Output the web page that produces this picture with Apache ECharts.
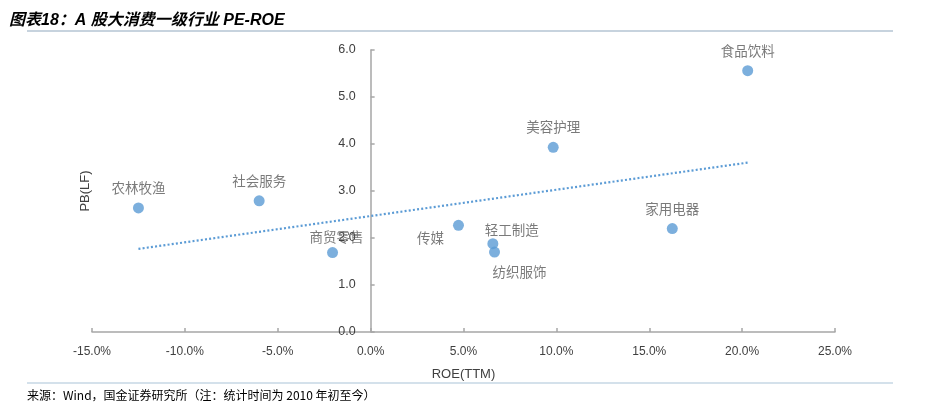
<!DOCTYPE html>
<html><head><meta charset="utf-8">
<script src="https://cdn.jsdelivr.net/npm/echarts@6/dist/echarts.min.js"></script>
<style>html,body{margin:0;padding:0;background:#fff}#c{width:928px;height:410px}</style>
</head><body><div id="c"></div>
<script>
// ---- data ----
const industries = ['农林牧渔','社会服务','商贸零售','传媒','轻工制造','纺织服饰','美容护理','家用电器','食品饮料'];
const roeTTM = [-12.5, -6.0, -2.05, 4.73, 6.58, 6.67, 9.83, 16.24, 20.3];
const pbLF   = [2.64, 2.79, 1.69, 2.27, 1.88, 1.70, 3.93, 2.20, 5.56];
const xTicks = [-15, -10, -5, 0, 5, 10, 15, 20, 25];
const yTicks = [0, 1, 2, 3, 4, 5, 6];

// label placement (style only)
const labelOffsets = {
  '农林牧渔': [0, -20], '社会服务': [0, -20], '商贸零售': [4, -16], '传媒': [-28, 13],
  '轻工制造': [19, -14], '纺织服饰': [25, 20], '美容护理': [0, -20], '家用电器': [0, -20], '食品饮料': [0, -20]
};

// linear trendline (least squares)
const n = roeTTM.length;
const mx = roeTTM.reduce((a,b)=>a+b,0)/n, my = pbLF.reduce((a,b)=>a+b,0)/n;
let sxy=0, sxx=0;
for (let i=0;i<n;i++){ sxy += (roeTTM[i]-mx)*(pbLF[i]-my); sxx += (roeTTM[i]-mx)**2; }
const slope = sxy/sxx, icpt = my - slope*mx;
const xMin = Math.min(...roeTTM), xMax = Math.max(...roeTTM);
const trend = [[xMin, icpt+slope*xMin],[xMax, icpt+slope*xMax]];

const pts = industries.map((nm,i)=>({
  name: nm, value: [roeTTM[i], pbLF[i]],
  label: { offset: labelOffsets[nm] }
}));

const GL = 92, GR = 93, W = 928;
const gridW = W - GL - GR;
const xLo = xTicks[0], xHi = xTicks[xTicks.length-1];
// shift y axis so it sits at ROE = 0
const yOffset = -gridW * (0 - xLo) / (xHi - xLo);

const chart = echarts.init(document.getElementById('c'));
const axisGray = '#A6A6A6';
chart.setOption({
  animation: false,
  title: {
    text: '图表18：A 股大消费一级行业 PE-ROE', left: 4, top: 8,
    textStyle: { fontSize: 16, fontWeight: 'bold', fontStyle: 'italic', color: '#000',
      fontFamily: '"Liberation Sans", "Noto Sans CJK SC", sans-serif' }
  },
  grid: { left: GL, right: GR, top: 50, bottom: 78, containLabel: false, outerBoundsMode: 'none' },
  xAxis: {
    type: 'value', min: xLo, max: xHi, interval: 5,
    name: 'ROE(TTM)', nameLocation: 'middle', nameGap: 36,
    nameTextStyle: { fontSize: 13, color: '#404040', fontFamily: '"Liberation Sans Narrow", "Liberation Sans", sans-serif' },
    axisLine: { onZero: false, lineStyle: { color: axisGray, width: 1.5 } },
    axisTick: { show: true, inside: true, length: 4, lineStyle: { color: axisGray, width: 1.5 } },
    axisLabel: { margin: 14, fontSize: 12, color: '#404040',
      fontFamily: '"Liberation Sans Narrow", "Liberation Sans", sans-serif',
      formatter: v => v.toFixed(1) + '%' },
    splitLine: { show: false }
  },
  yAxis: {
    type: 'value', min: yTicks[0], max: yTicks[yTicks.length-1], interval: 1,
    offset: yOffset,
    name: 'PB(LF)', nameLocation: 'middle', nameGap: 279, nameRotate: 90,
    nameTextStyle: { fontSize: 13, color: '#404040', fontFamily: '"Liberation Sans", sans-serif' },
    axisLine: { show: true, onZero: false, lineStyle: { color: axisGray, width: 1.5 } },
    axisTick: { show: true, inside: true, length: 4, lineStyle: { color: axisGray, width: 1.5 } },
    axisLabel: { margin: 15, fontSize: 12.5, color: '#404040', fontFamily: '"Liberation Sans", sans-serif',
      formatter: v => v.toFixed(1) },
    splitLine: { show: false }
  },
  series: [
    {
      type: 'line', data: trend, symbol: 'none', silent: true, z: 1,
      lineStyle: { color: '#5B9BD5', width: 2.2, type: [2, 2.2] }
    },
    {
      type: 'scatter', data: pts, symbolSize: 11, z: 3,
      itemStyle: { color: '#5B9BD5' },
      label: { show: true, position: 'inside', formatter: p => p.name,
        fontSize: 13.5, color: '#595959', fontFamily: '"Noto Sans CJK SC", sans-serif' }
    }
  ],
  graphic: [
    { type: 'line', shape: { x1: 27, y1: 31, x2: 893, y2: 31 }, style: { stroke: '#8FA8BE', lineWidth: 1.2 } },
    { type: 'line', shape: { x1: 27, y1: 383, x2: 893, y2: 383 }, style: { stroke: '#A9C4D8', lineWidth: 1.2 } },
    { type: 'text', left: 27, top: 389, style: { text: '来源：Wind，国金证券研究所（注：统计时间为 2010 年初至今）',
      fontSize: 12, fill: '#000', fontFamily: '"Noto Sans CJK SC", sans-serif' } }
  ]
});
</script></body></html>
